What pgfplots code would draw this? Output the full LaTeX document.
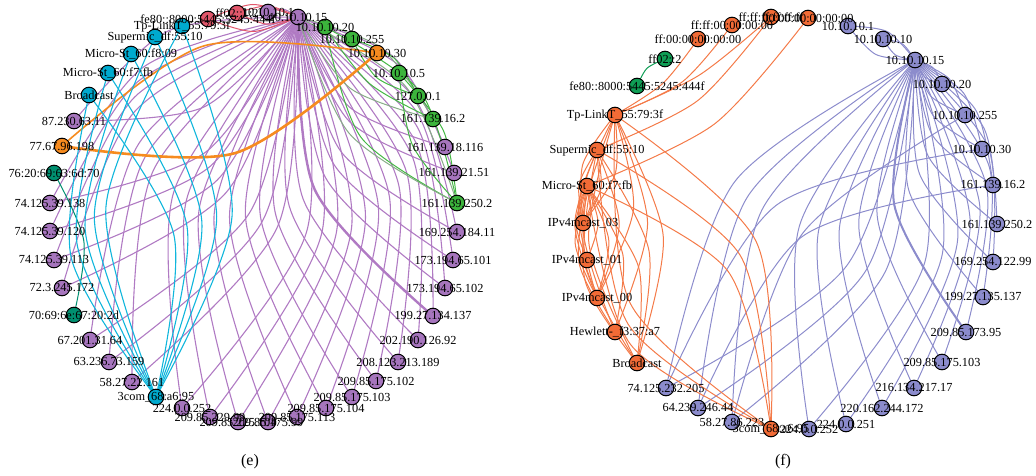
\documentclass[border=0pt]{standalone}
\usepackage{pgfplots}
\usepackage{pgfplotstable}
\pgfplotsset{compat=1.18}
\usepackage{fontspec}
\setmainfont{Liberation Serif}

\definecolor{nPur}{HTML}{A675BD}
\definecolor{ePur}{HTML}{B07AC3}
\definecolor{nCya}{HTML}{00AACF}
\definecolor{eCya}{HTML}{10B6DC}
\definecolor{nGrn}{HTML}{3CB43C}
\definecolor{eGrn}{HTML}{44B844}
\definecolor{eGry}{HTML}{88AC88}
\definecolor{nTea}{HTML}{009070}
\definecolor{nOra}{HTML}{F68B1F}
\definecolor{nRed}{HTML}{E2576B}
\definecolor{fOra}{HTML}{F26B36}
\definecolor{fOraE}{HTML}{F47A48}
\definecolor{fBlu}{HTML}{8B8BCC}
\definecolor{fBluE}{HTML}{8C8CCC}
\definecolor{fGrn}{HTML}{0F9E55}

% node positions, in pixels of the reference (y downwards)
\pgfplotstableread{
x y lab
268 12 10.10.10.1
298 17 10.10.10.15
445 147 161.139.18.116
454 173 161.139.21.51
457 232 169.254.184.11
453 260 173.194.65.101
445 288 173.194.65.102
433 316 199.27.134.137
418 340 202.190.126.92
398 362 208.123.213.189
376 381 209.85.175.102
352 397 209.85.175.103
326 408 209.85.175.104
297 417 209.85.175.113
268 422 209.85.175.99
238 422 209.85.225.104
210 417 209.85.229.99
182 408 224.0.0.252
132 382 58.27.22.161
109 362 63.236.73.159
90 340 67.201.31.64
62 288 72.3.245.172
54 260 74.125.39.113
50 231 74.125.39.120
50 203 74.125.39.138
74 121 87.230.63.11
}\ePurT
\pgfplotstableread{
x y lab
325 27 10.10.10.20
352 39 10.10.10.255
399 73 10.10.10.5
418 96 127.0.0.1
433 119 161.139.16.2
457 203 161.139.250.2
}\eGrnT
\pgfplotstableread{
x y lab
377 53 10.10.10.30
62 146 77.67.96.198
}\eOraT
\pgfplotstableread{
x y lab
54 173 76:20:69:63:6d:70
74 315 70:69:6e:67:20:2d
}\eTeaT
\pgfplotstableread{
x y lab
156 397 3com\_68:a6:95
89 95 Broadcast
108 73 Micro-St\_60:f7:fb
131 54 Micro-St\_60:f8:09
155 37 Supermic\_df:55:10
182 26 Tp-LinkT\_55:79:3f
}\eCyaT
\pgfplotstableread{
x y lab
208 19 fe80::8000:5445:5245:444f
237 13 ff02::1:2
}\eRedT
\pgfplotstableread{
x y lab
848 26 10.10.10.1
883 39 10.10.10.10
915 60 10.10.10.15
942 84 10.10.10.20
965 115 10.10.10.255
982 149 10.10.10.30
993 185 161.139.16.2
997 224 161.139.250.2
993 262 169.254.122.99
983 297 199.27.135.137
966 332 209.85.173.95
942 362 209.85.175.103
914 388 216.134.217.17
882 408 220.162.244.172
846 424 224.0.0.251
809 429 224.0.0.252
732 422 58.27.86.223
698 408 64.239.246.44
666 388 74.125.232.205
}\fBluT
\pgfplotstableread{
x y lab
808 18 00:00:00:00:00:00
771 429 3com\_68:a6:95
637 363 Broadcast
615 332 Hewlett-\_f3:37:a7
597 298 IPv4mcast\_00
587 260 IPv4mcast\_01
583 223 IPv4mcast\_03
587 186 Micro-St\_60:f7:fb
597 150 Supermic\_df:55:10
615 115 Tp-LinkT\_55:79:3f
698 39 ff:00:00:00:00:00
732 25 ff:ff:00:00:00:00
771 17 ff:ff:ff:ff:ff:ff
}\fOraT
\pgfplotstableread{
x y lab
637 86 fe80::8000:5445:5245:444f
665 59 ff02::2
}\fGrnT

% one curved edge: style, x1, y1, x2, y2, bend (offset of the middle / chord)
\newcommand\edge[6]{%
  \pgfmathsetmacro\mx{(#2+#4)/2+(#6)*(#5-#3)}%
  \pgfmathsetmacro\my{(#3+#5)/2-(#6)*(#4-#2)}%
  \edef\tmp{\noexpand\addplot[#1] coordinates {(#2,#3) (\mx,\my) (#4,#5)};}%
  \tmp}
% a pair of edges, one bent each way
\newcommand\lens[6]{\edge{#1}{#2}{#3}{#4}{#5}{#6}\edge{#1}{#2}{#3}{#4}{#5}{-#6}}

\pgfplotsset{
  pe/.style={ePur, line width=1.1pt, smooth, mark=none},
  ce/.style={eCya, line width=1.1pt, smooth, mark=none},
  ge/.style={eGrn, line width=1pt, smooth, mark=none},
  gg/.style={eGry, line width=1pt, smooth, mark=none},
  te/.style={nTea, line width=1pt, smooth, mark=none},
  oe/.style={nOra, smooth, mark=none},
  re/.style={nRed, line width=1pt, smooth, mark=none},
  fo/.style={fOraE, line width=1pt, smooth, mark=none},
  fb/.style={fBluE, line width=1pt, smooth, mark=none},
  fg/.style={fGrn, line width=1pt, smooth, mark=none},
  vert/.style={only marks, mark=*, mark size=7.8pt,
    mark options={fill=#1, draw=black, line width=1pt}},
  labs/.style={draw=none, mark=none, nodes near coords, point meta=explicit symbolic,
    every node near coord/.append style={anchor=center, inner sep=0pt,
      text=black, font=\fontsize{12.3}{12.3}\selectfont}},
}

\begin{document}
\begin{tikzpicture}
\begin{axis}[
    hide axis, scale only axis,
    width=1036pt, height=476pt,
    xmin=0, xmax=1036, ymin=0, ymax=476,
    y dir=reverse, clip=false,
  ]

  % ---- (e) edges ----
  \foreach \x/\y in {268/12, 445/147, 454/173, 457/232, 453/260, 445/288, 433/316,
      418/340, 398/362, 376/381, 352/397, 326/408, 297/417, 268/422, 238/422,
      210/417, 182/408, 132/382, 109/362, 90/340, 62/288, 54/260, 50/231,
      50/203, 74/121} {\lens{pe}{298}{17}{\x}{\y}{0.17}}
  \edge{pe, line width=2.4pt}{298}{17}{433}{316}{-0.17}

  \lens{ge}{325}{27}{457}{203}{0.17}
  \lens{gg}{298}{17}{433}{119}{0.15}
  \lens{gg}{298}{17}{457}{203}{0.15}
  \lens{ge}{352}{39}{418}{96}{0.15}
  \lens{ge}{399}{73}{457}{203}{0.12}
  \edge{ge}{325}{27}{433}{119}{-0.1}

  \lens{re}{208}{19}{298}{17}{0.15}
  \lens{re}{237}{13}{298}{17}{0.15}

  \edge{te}{54}{173}{74}{315}{0.14}

  \edge{oe, line width=2.6pt}{377}{53}{62}{146}{0.17}
  \edge{oe, line width=1.6pt}{377}{53}{62}{146}{-0.17}

  \foreach \x/\y in {89/95, 108/73, 131/54, 155/37, 182/26}
    {\lens{ce}{156}{397}{\x}{\y}{0.17}}

  % ---- (f) edges ----
  \foreach \x/\y in {848/26, 883/39, 942/84, 965/115, 982/149, 993/185, 997/224,
      993/262, 983/297, 966/332, 942/362, 914/388, 882/408, 846/424, 809/429,
      732/422, 698/408, 666/388} {\lens{fb}{915}{60}{\x}{\y}{0.17}}
  \edge{fb, line width=2pt}{915}{60}{966}{332}{-0.17}
  \edge{fb}{666}{388}{982}{149}{0.2}
  \edge{fb}{698}{408}{993}{185}{0.2}
  \edge{fb}{732}{422}{965}{115}{0.15}

  \foreach \x/\y in {615/115, 597/150, 587/186} {
    \lens{fo}{\x}{\y}{771}{429}{0.2}
    \lens{fo}{\x}{\y}{637}{363}{0.15}
    \lens{fo}{\x}{\y}{597}{298}{0.15}
    \lens{fo}{\x}{\y}{583}{223}{0.15}
  }
  \lens{fo}{615}{115}{615}{332}{0.15}
  \lens{fo}{587}{186}{587}{260}{0.15}
  \lens{fo}{587}{186}{615}{332}{0.15}
  \edge{fo}{615}{115}{698}{39}{-0.08}
  \edge{fo}{615}{115}{732}{25}{-0.1}
  \edge{fo}{615}{115}{771}{17}{-0.06}
  \edge{fo}{597}{150}{771}{17}{-0.1}
  \edge{fo}{587}{186}{808}{18}{-0.1}

  \edge{fg}{637}{86}{665}{59}{0.15}

  % ---- nodes ----
  \addplot[vert=nPur] table[x=x, y=y] {\ePurT};
  \addplot[vert=nGrn] table[x=x, y=y] {\eGrnT};
  \addplot[vert=nOra] table[x=x, y=y] {\eOraT};
  \addplot[vert=nTea] table[x=x, y=y] {\eTeaT};
  \addplot[vert=nCya] table[x=x, y=y] {\eCyaT};
  \addplot[vert=nRed] table[x=x, y=y] {\eRedT};
  \addplot[vert=fBlu] table[x=x, y=y] {\fBluT};
  \addplot[vert=fOra] table[x=x, y=y] {\fOraT};
  \addplot[vert=fGrn] table[x=x, y=y] {\fGrnT};

  % ---- labels ----
  \addplot[labs] table[x=x, y=y, meta=lab] {\ePurT};
  \addplot[labs] table[x=x, y=y, meta=lab] {\eGrnT};
  \addplot[labs] table[x=x, y=y, meta=lab] {\eOraT};
  \addplot[labs] table[x=x, y=y, meta=lab] {\eTeaT};
  \addplot[labs] table[x=x, y=y, meta=lab] {\eCyaT};
  \addplot[labs] table[x=x, y=y, meta=lab] {\eRedT};
  \addplot[labs] table[x=x, y=y, meta=lab] {\fBluT};
  \addplot[labs] table[x=x, y=y, meta=lab] {\fOraT};
  \addplot[labs] table[x=x, y=y, meta=lab] {\fGrnT};

  \node[font=\fontsize{16}{16}\selectfont] at (axis cs:250,462) {(e)};
  \node[font=\fontsize{16}{16}\selectfont] at (axis cs:783,462) {(f)};
\end{axis}
\pgfresetboundingbox
\path[use as bounding box] (current axis.south west) rectangle (current axis.north east);
\end{tikzpicture}
\end{document}
